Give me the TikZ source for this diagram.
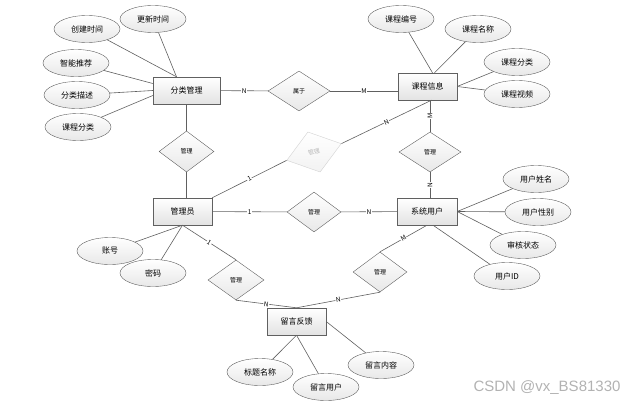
\documentclass[tikz,border=0pt]{standalone}
\usepackage{fontspec}
\setmainfont{Noto Sans CJK SC}
\newfontfamily\markfont{Liberation Sans}
\usepackage{tikz}
\usetikzlibrary{shapes.geometric}

\begin{document}
\begin{tikzpicture}[x=1pt, y=-1pt,
    entity/.style={rectangle, draw=gray!75!black, top color=white, bottom color=gray!22, minimum width=59pt, minimum height=27pt, inner sep=0pt, font=\fontsize{8}{9}\selectfont},
    attr/.style={ellipse, draw=gray!75!black, top color=white, bottom color=gray!18, minimum width=66pt, minimum height=27pt, inner sep=0pt, font=\fontsize{8}{9}\selectfont},
    rel/.style={diamond, draw=gray!75!black, top color=white, bottom color=gray!18, minimum width=55pt, minimum height=40pt, inner sep=0pt, font=\fontsize{6}{7}\selectfont},
    link/.style={draw=gray!75!black, line width=0.6pt},
    card/.style={fill=white, inner sep=0.6pt, font=\fontsize{6.5}{7}\selectfont}]
    \useasboundingbox (0,0) rectangle (637,404);

    % Entities
    \node (cat) [entity, minimum width=67pt] at (186.5,90.5) {分类管理};
    \node (course) [entity] at (427.5,86.5) {课程信息};
    \node (admin) [entity] at (182.5,211.5) {管理员};
    \node (user) [entity, minimum width=60pt] at (427,211.5) {系统用户};
    \node (msg) [entity] at (296.5,321.5) {留言反馈};

    % Relations
    \node (belong) [rel, minimum width=62pt] at (299,91) {属于};
    \node (mgrcat) [rel, minimum height=41pt] at (186.5,151.5) {管理};
    \node (mgrcourse) [rel, rotate=17, minimum width=57pt, minimum height=42pt, draw=gray!35, top color=white, bottom color=gray!10, text=gray!55] at (314,152) {管理};
    \node (mgrinfo) [rel, minimum width=62pt] at (430,152) {管理};
    \node (mgruser) [rel, minimum width=54pt] at (314,212) {管理};
    \node (mgrmsga) [rel, minimum width=56pt] at (236,280) {管理};
    \node (mgrmsgb) [rel, minimum width=54pt] at (380,272) {管理};

    % Attributes
    \node (upd) [attr] at (153,19) {更新时间};
    \node (crt) [attr] at (87,29) {创建时间};
    \node (smart) [attr] at (76,63) {智能推荐};
    \node (desc) [attr] at (77,95) {分类描述};
    \node (catcls) [attr] at (78,127) {课程分类};
    \node (cno) [attr] at (401,19) {课程编号};
    \node (cname) [attr] at (478,29) {课程名称};
    \node (crscls) [attr] at (517,62) {课程分类};
    \node (cvideo) [attr] at (517,94) {课程视频};
    \node (acc) [attr] at (110,251) {账号};
    \node (pwd) [attr] at (153,273) {密码};
    \node (uname) [attr] at (536,179) {用户姓名};
    \node (usex) [attr] at (538,212) {用户性别};
    \node (ustate) [attr] at (523,245) {审核状态};
    \node (uid) [attr] at (507,276) {用户ID};
    \node (title) [attr] at (260,372) {标题名称};
    \node (muser) [attr] at (326,387) {留言用户};
    \node (mtext) [attr] at (381,365) {留言内容};

    % Relations links
    \draw[link] (cat) -- node[card] {N} (belong);
    \draw[link] (belong.east) -- node[card] {M} (belong.east -| course.west);
    \draw[link] (cat) -- (mgrcat);
    \draw[link] (mgrcat.south) -- (mgrcat.south |- admin.north);
    \draw[link] (admin.north east) -- node[card, sloped] {1} (mgrcourse.west);
    \draw[link] (mgrcourse.east) -- node[card, sloped] {N} ([xshift=4pt]course.south);
    \draw[link] (mgrinfo.north |- course.south) -- node[card, rotate=90] {M} (mgrinfo.north);
    \draw[link] (mgrinfo.south) -- node[card, rotate=90] {N} (mgrinfo.south |- user.north);
    \draw[link] (admin) -- node[card] {1} (mgruser);
    \draw[link] (mgruser) -- node[card] {N} (user);
    \draw[link] (admin.south) -- node[card, sloped] {1} (mgrmsga.north);
    \draw[link] (mgrmsga.south) -- node[card, sloped] {N} (msg.north);
    \draw[link] (mgrmsgb.south) -- node[card, sloped] {N} (msg.north);
    \draw[link] (user.south) -- node[card, sloped] {M} (mgrmsgb.north);

    % Attribute links
    \draw[link] (upd) -- ([xshift=-10pt]cat.north);
    \draw[link] (crt) -- ([xshift=-10pt]cat.north);
    \draw[link] (smart) -- ([yshift=7pt]cat.west);
    \draw[link] (desc) -- (cat.west);
    \draw[link] (catcls) -- ([yshift=-5pt]cat.west);
    \draw[link] (cno) -- ([xshift=5pt]course.north);
    \draw[link] (cname) -- ([xshift=7pt]course.north);
    \draw[link] (crscls) -- (course.east);
    \draw[link] (cvideo) -- (course.east);
    \draw[link] (acc) -- (admin.south);
    \draw[link] (pwd) -- (admin.south);
    \draw[link] (uname) -- (user.east);
    \draw[link] (usex) -- (user.east);
    \draw[link] (ustate) -- (user.east);
    \draw[link] (uid) -- ([xshift=6pt]user.south);
    \draw[link] (title) -- (msg.south);
    \draw[link] (muser) -- (msg.south);
    \draw[link] (mtext) -- (msg.east);

    % Watermark
    \node (mark) [text=gray!60, font=\markfont\fontsize{15}{16}\selectfont] at (547,388) {CSDN @vx\_BS81330};
\end{tikzpicture}
\end{document}
